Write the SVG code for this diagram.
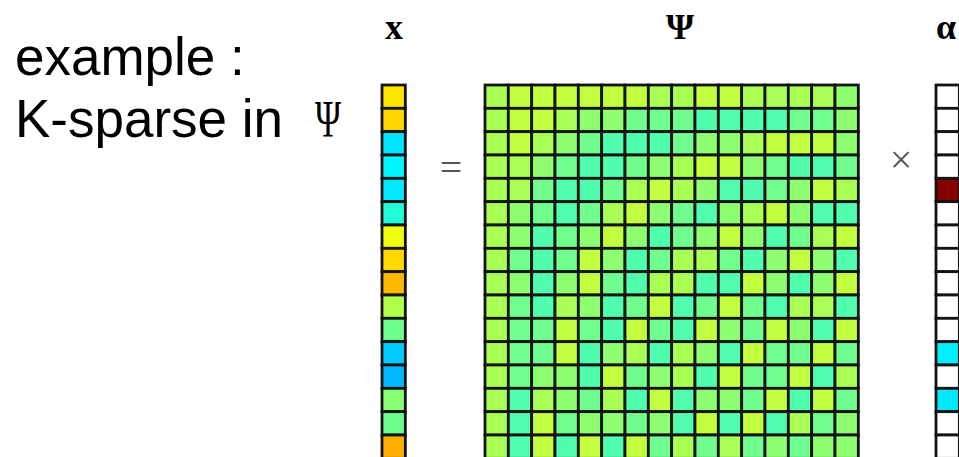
<svg xmlns="http://www.w3.org/2000/svg" width="959" height="457" viewBox="0 0 959 457">
<style>
.c rect{stroke:#141414;stroke-width:2.8}
.Y{fill:#c2ff3e}.L{fill:#aaff55}.G{fill:#8eff70}.M{fill:#70ff8e}.A{fill:#50ffae}
.W{fill:#ffffff}
.lbl{font-family:"Liberation Serif",serif;font-weight:bold;font-size:36px;fill:#000;text-anchor:middle}
.op{font-family:"Liberation Serif",serif;font-size:40px;fill:#555;text-anchor:middle}
.tx{font-family:"Liberation Sans",Arial,sans-serif;font-size:53px;fill:#000}
</style>
<rect width="959" height="457" fill="#fff"/>
<g id="caption">
<text class="tx" x="15" y="75">example :</text>
<text class="tx" x="15" y="137">K-sparse in</text>
<text x="315" y="137" font-family="Liberation Serif,serif" font-size="52" textLength="26" lengthAdjust="spacingAndGlyphs">Ψ</text>
</g>
<g id="labels">
<text class="lbl" x="394" y="39">x</text>
<text class="lbl" x="680" y="39">Ψ</text>
<text class="lbl" x="946" y="39">α</text>
<text class="op" x="451" y="181">=</text>
<text class="op" x="901" y="173">×</text>
</g>
<g id="vector-x" class="c">
<rect x="382" y="85" width="23.33" height="23.33" fill="#ffe600"/>
<rect x="382" y="108.33" width="23.33" height="23.33" fill="#ffd700"/>
<rect x="382" y="131.67" width="23.33" height="23.33" fill="#00e5ff"/>
<rect x="382" y="155" width="23.33" height="23.33" fill="#00f6ff"/>
<rect x="382" y="178.33" width="23.33" height="23.33" fill="#00e8ff"/>
<rect x="382" y="201.67" width="23.33" height="23.33" fill="#20ffd8"/>
<rect x="382" y="225" width="23.33" height="23.33" fill="#f0ff10"/>
<rect x="382" y="248.33" width="23.33" height="23.33" fill="#ffd800"/>
<rect x="382" y="271.67" width="23.33" height="23.33" fill="#ffb800"/>
<rect x="382" y="295" width="23.33" height="23.33" fill="#b0ff48"/>
<rect x="382" y="318.33" width="23.33" height="23.33" fill="#6cff8e"/>
<rect x="382" y="341.67" width="23.33" height="23.33" fill="#00ccff"/>
<rect x="382" y="365" width="23.33" height="23.33" fill="#00b8ff"/>
<rect x="382" y="388.33" width="23.33" height="23.33" fill="#88ff74"/>
<rect x="382" y="411.67" width="23.33" height="23.33" fill="#6cff8e"/>
<rect x="382" y="435" width="23.33" height="23.33" fill="#ffb000"/>
</g>
<g id="matrix-psi" class="c">
<g transform="translate(485,85)"><rect class="L" x="0" width="23.33" height="23.33"/><rect class="Y" x="23.33" width="23.33" height="23.33"/><rect class="Y" x="46.67" width="23.33" height="23.33"/><rect class="Y" x="70" width="23.33" height="23.33"/><rect class="Y" x="93.33" width="23.33" height="23.33"/><rect class="Y" x="116.67" width="23.33" height="23.33"/><rect class="Y" x="140" width="23.33" height="23.33"/><rect class="L" x="163.33" width="23.33" height="23.33"/><rect class="L" x="186.67" width="23.33" height="23.33"/><rect class="Y" x="210" width="23.33" height="23.33"/><rect class="Y" x="233.33" width="23.33" height="23.33"/><rect class="L" x="256.67" width="23.33" height="23.33"/><rect class="L" x="280" width="23.33" height="23.33"/><rect class="L" x="303.33" width="23.33" height="23.33"/><rect class="L" x="326.67" width="23.33" height="23.33"/><rect class="G" x="350" width="23.33" height="23.33"/></g>
<g transform="translate(485,108.33)"><rect class="L" x="0" width="23.33" height="23.33"/><rect class="Y" x="23.33" width="23.33" height="23.33"/><rect class="Y" x="46.67" width="23.33" height="23.33"/><rect class="L" x="70" width="23.33" height="23.33"/><rect class="G" x="93.33" width="23.33" height="23.33"/><rect class="G" x="116.67" width="23.33" height="23.33"/><rect class="M" x="140" width="23.33" height="23.33"/><rect class="M" x="163.33" width="23.33" height="23.33"/><rect class="M" x="186.67" width="23.33" height="23.33"/><rect class="A" x="210" width="23.33" height="23.33"/><rect class="A" x="233.33" width="23.33" height="23.33"/><rect class="A" x="256.67" width="23.33" height="23.33"/><rect class="A" x="280" width="23.33" height="23.33"/><rect class="M" x="303.33" width="23.33" height="23.33"/><rect class="M" x="326.67" width="23.33" height="23.33"/><rect class="G" x="350" width="23.33" height="23.33"/></g>
<g transform="translate(485,131.67)"><rect class="L" x="0" width="23.33" height="23.33"/><rect class="Y" x="23.33" width="23.33" height="23.33"/><rect class="L" x="46.67" width="23.33" height="23.33"/><rect class="G" x="70" width="23.33" height="23.33"/><rect class="M" x="93.33" width="23.33" height="23.33"/><rect class="A" x="116.67" width="23.33" height="23.33"/><rect class="A" x="140" width="23.33" height="23.33"/><rect class="A" x="163.33" width="23.33" height="23.33"/><rect class="M" x="186.67" width="23.33" height="23.33"/><rect class="G" x="210" width="23.33" height="23.33"/><rect class="G" x="233.33" width="23.33" height="23.33"/><rect class="L" x="256.67" width="23.33" height="23.33"/><rect class="Y" x="280" width="23.33" height="23.33"/><rect class="Y" x="303.33" width="23.33" height="23.33"/><rect class="Y" x="326.67" width="23.33" height="23.33"/><rect class="G" x="350" width="23.33" height="23.33"/></g>
<g transform="translate(485,155)"><rect class="L" x="0" width="23.33" height="23.33"/><rect class="L" x="23.33" width="23.33" height="23.33"/><rect class="G" x="46.67" width="23.33" height="23.33"/><rect class="M" x="70" width="23.33" height="23.33"/><rect class="A" x="93.33" width="23.33" height="23.33"/><rect class="A" x="116.67" width="23.33" height="23.33"/><rect class="M" x="140" width="23.33" height="23.33"/><rect class="G" x="163.33" width="23.33" height="23.33"/><rect class="L" x="186.67" width="23.33" height="23.33"/><rect class="Y" x="210" width="23.33" height="23.33"/><rect class="Y" x="233.33" width="23.33" height="23.33"/><rect class="G" x="256.67" width="23.33" height="23.33"/><rect class="M" x="280" width="23.33" height="23.33"/><rect class="A" x="303.33" width="23.33" height="23.33"/><rect class="A" x="326.67" width="23.33" height="23.33"/><rect class="M" x="350" width="23.33" height="23.33"/></g>
<g transform="translate(485,178.33)"><rect class="L" x="0" width="23.33" height="23.33"/><rect class="L" x="23.33" width="23.33" height="23.33"/><rect class="M" x="46.67" width="23.33" height="23.33"/><rect class="A" x="70" width="23.33" height="23.33"/><rect class="A" x="93.33" width="23.33" height="23.33"/><rect class="M" x="116.67" width="23.33" height="23.33"/><rect class="L" x="140" width="23.33" height="23.33"/><rect class="Y" x="163.33" width="23.33" height="23.33"/><rect class="L" x="186.67" width="23.33" height="23.33"/><rect class="G" x="210" width="23.33" height="23.33"/><rect class="A" x="233.33" width="23.33" height="23.33"/><rect class="A" x="256.67" width="23.33" height="23.33"/><rect class="M" x="280" width="23.33" height="23.33"/><rect class="G" x="303.33" width="23.33" height="23.33"/><rect class="Y" x="326.67" width="23.33" height="23.33"/><rect class="L" x="350" width="23.33" height="23.33"/></g>
<g transform="translate(485,201.67)"><rect class="L" x="0" width="23.33" height="23.33"/><rect class="G" x="23.33" width="23.33" height="23.33"/><rect class="M" x="46.67" width="23.33" height="23.33"/><rect class="A" x="70" width="23.33" height="23.33"/><rect class="M" x="93.33" width="23.33" height="23.33"/><rect class="L" x="116.67" width="23.33" height="23.33"/><rect class="Y" x="140" width="23.33" height="23.33"/><rect class="G" x="163.33" width="23.33" height="23.33"/><rect class="M" x="186.67" width="23.33" height="23.33"/><rect class="A" x="210" width="23.33" height="23.33"/><rect class="G" x="233.33" width="23.33" height="23.33"/><rect class="L" x="256.67" width="23.33" height="23.33"/><rect class="Y" x="280" width="23.33" height="23.33"/><rect class="G" x="303.33" width="23.33" height="23.33"/><rect class="A" x="326.67" width="23.33" height="23.33"/><rect class="A" x="350" width="23.33" height="23.33"/></g>
<g transform="translate(485,225)"><rect class="L" x="0" width="23.33" height="23.33"/><rect class="G" x="23.33" width="23.33" height="23.33"/><rect class="A" x="46.67" width="23.33" height="23.33"/><rect class="M" x="70" width="23.33" height="23.33"/><rect class="G" x="93.33" width="23.33" height="23.33"/><rect class="Y" x="116.67" width="23.33" height="23.33"/><rect class="G" x="140" width="23.33" height="23.33"/><rect class="A" x="163.33" width="23.33" height="23.33"/><rect class="M" x="186.67" width="23.33" height="23.33"/><rect class="G" x="210" width="23.33" height="23.33"/><rect class="Y" x="233.33" width="23.33" height="23.33"/><rect class="G" x="256.67" width="23.33" height="23.33"/><rect class="A" x="280" width="23.33" height="23.33"/><rect class="M" x="303.33" width="23.33" height="23.33"/><rect class="L" x="326.67" width="23.33" height="23.33"/><rect class="Y" x="350" width="23.33" height="23.33"/></g>
<g transform="translate(485,248.33)"><rect class="L" x="0" width="23.33" height="23.33"/><rect class="M" x="23.33" width="23.33" height="23.33"/><rect class="A" x="46.67" width="23.33" height="23.33"/><rect class="M" x="70" width="23.33" height="23.33"/><rect class="Y" x="93.33" width="23.33" height="23.33"/><rect class="G" x="116.67" width="23.33" height="23.33"/><rect class="A" x="140" width="23.33" height="23.33"/><rect class="M" x="163.33" width="23.33" height="23.33"/><rect class="L" x="186.67" width="23.33" height="23.33"/><rect class="L" x="210" width="23.33" height="23.33"/><rect class="M" x="233.33" width="23.33" height="23.33"/><rect class="A" x="256.67" width="23.33" height="23.33"/><rect class="G" x="280" width="23.33" height="23.33"/><rect class="Y" x="303.33" width="23.33" height="23.33"/><rect class="G" x="326.67" width="23.33" height="23.33"/><rect class="A" x="350" width="23.33" height="23.33"/></g>
<g transform="translate(485,271.67)"><rect class="L" x="0" width="23.33" height="23.33"/><rect class="G" x="23.33" width="23.33" height="23.33"/><rect class="A" x="46.67" width="23.33" height="23.33"/><rect class="G" x="70" width="23.33" height="23.33"/><rect class="Y" x="93.33" width="23.33" height="23.33"/><rect class="M" x="116.67" width="23.33" height="23.33"/><rect class="A" x="140" width="23.33" height="23.33"/><rect class="L" x="163.33" width="23.33" height="23.33"/><rect class="L" x="186.67" width="23.33" height="23.33"/><rect class="A" x="210" width="23.33" height="23.33"/><rect class="A" x="233.33" width="23.33" height="23.33"/><rect class="Y" x="256.67" width="23.33" height="23.33"/><rect class="G" x="280" width="23.33" height="23.33"/><rect class="A" x="303.33" width="23.33" height="23.33"/><rect class="G" x="326.67" width="23.33" height="23.33"/><rect class="Y" x="350" width="23.33" height="23.33"/></g>
<g transform="translate(485,295)"><rect class="L" x="0" width="23.33" height="23.33"/><rect class="M" x="23.33" width="23.33" height="23.33"/><rect class="A" x="46.67" width="23.33" height="23.33"/><rect class="L" x="70" width="23.33" height="23.33"/><rect class="G" x="93.33" width="23.33" height="23.33"/><rect class="A" x="116.67" width="23.33" height="23.33"/><rect class="M" x="140" width="23.33" height="23.33"/><rect class="Y" x="163.33" width="23.33" height="23.33"/><rect class="A" x="186.67" width="23.33" height="23.33"/><rect class="M" x="210" width="23.33" height="23.33"/><rect class="Y" x="233.33" width="23.33" height="23.33"/><rect class="M" x="256.67" width="23.33" height="23.33"/><rect class="A" x="280" width="23.33" height="23.33"/><rect class="L" x="303.33" width="23.33" height="23.33"/><rect class="L" x="326.67" width="23.33" height="23.33"/><rect class="A" x="350" width="23.33" height="23.33"/></g>
<g transform="translate(485,318.33)"><rect class="L" x="0" width="23.33" height="23.33"/><rect class="M" x="23.33" width="23.33" height="23.33"/><rect class="M" x="46.67" width="23.33" height="23.33"/><rect class="Y" x="70" width="23.33" height="23.33"/><rect class="M" x="93.33" width="23.33" height="23.33"/><rect class="A" x="116.67" width="23.33" height="23.33"/><rect class="Y" x="140" width="23.33" height="23.33"/><rect class="M" x="163.33" width="23.33" height="23.33"/><rect class="A" x="186.67" width="23.33" height="23.33"/><rect class="Y" x="210" width="23.33" height="23.33"/><rect class="G" x="233.33" width="23.33" height="23.33"/><rect class="M" x="256.67" width="23.33" height="23.33"/><rect class="Y" x="280" width="23.33" height="23.33"/><rect class="G" x="303.33" width="23.33" height="23.33"/><rect class="A" x="326.67" width="23.33" height="23.33"/><rect class="Y" x="350" width="23.33" height="23.33"/></g>
<g transform="translate(485,341.67)"><rect class="L" x="0" width="23.33" height="23.33"/><rect class="M" x="23.33" width="23.33" height="23.33"/><rect class="M" x="46.67" width="23.33" height="23.33"/><rect class="Y" x="70" width="23.33" height="23.33"/><rect class="A" x="93.33" width="23.33" height="23.33"/><rect class="G" x="116.67" width="23.33" height="23.33"/><rect class="L" x="140" width="23.33" height="23.33"/><rect class="A" x="163.33" width="23.33" height="23.33"/><rect class="L" x="186.67" width="23.33" height="23.33"/><rect class="G" x="210" width="23.33" height="23.33"/><rect class="A" x="233.33" width="23.33" height="23.33"/><rect class="Y" x="256.67" width="23.33" height="23.33"/><rect class="M" x="280" width="23.33" height="23.33"/><rect class="M" x="303.33" width="23.33" height="23.33"/><rect class="Y" x="326.67" width="23.33" height="23.33"/><rect class="M" x="350" width="23.33" height="23.33"/></g>
<g transform="translate(485,365)"><rect class="L" x="0" width="23.33" height="23.33"/><rect class="M" x="23.33" width="23.33" height="23.33"/><rect class="G" x="46.67" width="23.33" height="23.33"/><rect class="G" x="70" width="23.33" height="23.33"/><rect class="A" x="93.33" width="23.33" height="23.33"/><rect class="Y" x="116.67" width="23.33" height="23.33"/><rect class="M" x="140" width="23.33" height="23.33"/><rect class="G" x="163.33" width="23.33" height="23.33"/><rect class="L" x="186.67" width="23.33" height="23.33"/><rect class="A" x="210" width="23.33" height="23.33"/><rect class="Y" x="233.33" width="23.33" height="23.33"/><rect class="M" x="256.67" width="23.33" height="23.33"/><rect class="M" x="280" width="23.33" height="23.33"/><rect class="Y" x="303.33" width="23.33" height="23.33"/><rect class="A" x="326.67" width="23.33" height="23.33"/><rect class="L" x="350" width="23.33" height="23.33"/></g>
<g transform="translate(485,388.33)"><rect class="L" x="0" width="23.33" height="23.33"/><rect class="A" x="23.33" width="23.33" height="23.33"/><rect class="L" x="46.67" width="23.33" height="23.33"/><rect class="G" x="70" width="23.33" height="23.33"/><rect class="M" x="93.33" width="23.33" height="23.33"/><rect class="L" x="116.67" width="23.33" height="23.33"/><rect class="A" x="140" width="23.33" height="23.33"/><rect class="Y" x="163.33" width="23.33" height="23.33"/><rect class="A" x="186.67" width="23.33" height="23.33"/><rect class="G" x="210" width="23.33" height="23.33"/><rect class="G" x="233.33" width="23.33" height="23.33"/><rect class="M" x="256.67" width="23.33" height="23.33"/><rect class="Y" x="280" width="23.33" height="23.33"/><rect class="A" x="303.33" width="23.33" height="23.33"/><rect class="Y" x="326.67" width="23.33" height="23.33"/><rect class="M" x="350" width="23.33" height="23.33"/></g>
<g transform="translate(485,411.67)"><rect class="L" x="0" width="23.33" height="23.33"/><rect class="A" x="23.33" width="23.33" height="23.33"/><rect class="Y" x="46.67" width="23.33" height="23.33"/><rect class="M" x="70" width="23.33" height="23.33"/><rect class="G" x="93.33" width="23.33" height="23.33"/><rect class="G" x="116.67" width="23.33" height="23.33"/><rect class="M" x="140" width="23.33" height="23.33"/><rect class="G" x="163.33" width="23.33" height="23.33"/><rect class="A" x="186.67" width="23.33" height="23.33"/><rect class="Y" x="210" width="23.33" height="23.33"/><rect class="A" x="233.33" width="23.33" height="23.33"/><rect class="Y" x="256.67" width="23.33" height="23.33"/><rect class="A" x="280" width="23.33" height="23.33"/><rect class="L" x="303.33" width="23.33" height="23.33"/><rect class="M" x="326.67" width="23.33" height="23.33"/><rect class="G" x="350" width="23.33" height="23.33"/></g>
<g transform="translate(485,435)"><rect class="L" x="0" width="23.33" height="23.33"/><rect class="A" x="23.33" width="23.33" height="23.33"/><rect class="Y" x="46.67" width="23.33" height="23.33"/><rect class="A" x="70" width="23.33" height="23.33"/><rect class="Y" x="93.33" width="23.33" height="23.33"/><rect class="A" x="116.67" width="23.33" height="23.33"/><rect class="Y" x="140" width="23.33" height="23.33"/><rect class="M" x="163.33" width="23.33" height="23.33"/><rect class="L" x="186.67" width="23.33" height="23.33"/><rect class="M" x="210" width="23.33" height="23.33"/><rect class="L" x="233.33" width="23.33" height="23.33"/><rect class="M" x="256.67" width="23.33" height="23.33"/><rect class="G" x="280" width="23.33" height="23.33"/><rect class="M" x="303.33" width="23.33" height="23.33"/><rect class="G" x="326.67" width="23.33" height="23.33"/><rect class="G" x="350" width="23.33" height="23.33"/></g>
</g>
<g id="vector-alpha" class="c">
<rect class="W" x="936" y="85" width="23.33" height="23.33"/>
<rect class="W" x="936" y="108.33" width="23.33" height="23.33"/>
<rect class="W" x="936" y="131.67" width="23.33" height="23.33"/>
<rect class="W" x="936" y="155" width="23.33" height="23.33"/>
<rect x="936" y="178.33" width="23.33" height="23.33" fill="#850000"/>
<rect class="W" x="936" y="201.67" width="23.33" height="23.33"/>
<rect class="W" x="936" y="225" width="23.33" height="23.33"/>
<rect class="W" x="936" y="248.33" width="23.33" height="23.33"/>
<rect class="W" x="936" y="271.67" width="23.33" height="23.33"/>
<rect class="W" x="936" y="295" width="23.33" height="23.33"/>
<rect class="W" x="936" y="318.33" width="23.33" height="23.33"/>
<rect x="936" y="341.67" width="23.33" height="23.33" fill="#00f0ff"/>
<rect class="W" x="936" y="365" width="23.33" height="23.33"/>
<rect x="936" y="388.33" width="23.33" height="23.33" fill="#00eaff"/>
<rect class="W" x="936" y="411.67" width="23.33" height="23.33"/>
<rect class="W" x="936" y="435" width="23.33" height="23.33"/>
</g>
</svg>
